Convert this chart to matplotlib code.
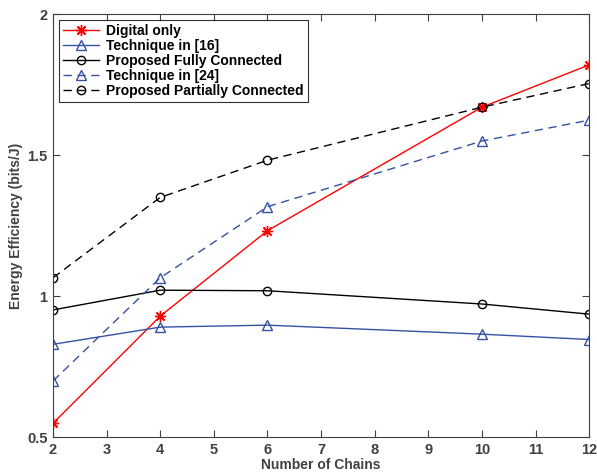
import matplotlib
matplotlib.use('Agg')
import matplotlib.pyplot as plt

# Dane
chains = [2, 4, 6, 10, 12]
digital_only = [0.549, 0.929, 1.232, 1.670, 1.820]
technique_16 = [0.829, 0.890, 0.897, 0.865, 0.846]
proposed_fully = [0.951, 1.021, 1.019, 0.972, 0.936]
technique_24 = [0.699, 1.065, 1.317, 1.550, 1.624]
proposed_partially = [1.065, 1.350, 1.482, 1.670, 1.754]

x_ticks = list(range(2, 13))
y_ticks = [0.5, 1, 1.5, 2]
y_tick_labels = ['0.5', '1', '1.5', '2']

plt.rcParams['font.family'] = ['Liberation Sans', 'DejaVu Sans']
plt.rcParams['font.weight'] = 'bold'

blue = '#3452a3'
gray = '#404040'

fig = plt.figure(figsize=(5.97, 4.72), dpi=100)
ax = fig.add_axes([0.0888, 0.074, 0.898, 0.896])

ax.plot(chains, digital_only, color='red', linestyle='-', linewidth=1,
        marker=(8, 2, 0), markersize=8, markeredgewidth=1, markeredgecolor='red',
        label='Digital only')
ax.plot(chains, technique_16, color=blue, linestyle='-', linewidth=1,
        marker='^', markersize=7, markerfacecolor='none', markeredgecolor=blue,
        label='Technique in [16]')
ax.plot(chains, proposed_fully, color='black', linestyle='-', linewidth=1,
        marker='o', markersize=6, markerfacecolor='none', markeredgecolor='black',
        label='Proposed Fully Connected')
ax.plot(chains, technique_24, color=blue, linestyle=(0, (6, 4)), linewidth=1,
        marker='^', markersize=7, markerfacecolor='none', markeredgecolor=blue,
        label='Technique in [24]')
ax.plot(chains, proposed_partially, color='black', linestyle=(0, (6, 4)), linewidth=1,
        marker='o', markersize=6, markerfacecolor='none', markeredgecolor='black',
        label='Proposed Partially Connected')

ax.set_xlim(2, 12)
ax.set_ylim(0.5, 2)
ax.set_xticks(x_ticks)
ax.set_yticks(y_ticks)
ax.set_yticklabels(y_tick_labels)

ax.tick_params(direction='in', top=True, right=True, length=5, width=0.8,
               colors=gray, labelsize=10.5, pad=4)
for lbl in ax.get_xticklabels() + ax.get_yticklabels():
    lbl.set_fontweight('bold')
for spine in ax.spines.values():
    spine.set_color(gray)
    spine.set_linewidth(0.8)

ax.set_xlabel('Number of Chains', fontsize=10, fontweight='bold', color=gray, labelpad=1)
ax.set_ylabel('Energy Efficiency (bits/J)', fontsize=10, fontweight='bold', color=gray, labelpad=3)

leg = ax.legend(loc='upper left', fontsize=10, frameon=True, fancybox=False,
                edgecolor='black', handlelength=2.6, handletextpad=0.5,
                borderpad=0.3, labelspacing=0.08, borderaxespad=0.4)
leg.get_frame().set_linewidth(0.8)
for t in leg.get_texts():
    t.set_fontweight('bold')

fig.savefig('out.png', dpi=100)
